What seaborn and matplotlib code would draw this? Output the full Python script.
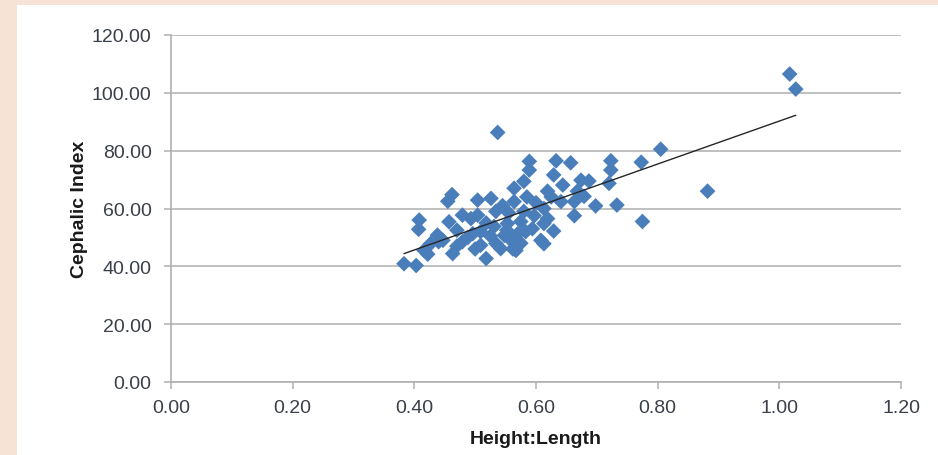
import numpy as np
import pandas as pd
import matplotlib
matplotlib.use("Agg")
import matplotlib.pyplot as plt
import seaborn as sns
from matplotlib.ticker import FormatStrFormatter

# values
height_length = [0.383, 0.403, 0.408, 0.407, 0.416, 0.422, 0.427, 0.438, 0.447, 0.455,
                 0.462, 0.457, 0.463, 0.470, 0.479, 0.479, 0.488, 0.496, 0.493, 0.500,
                 0.504, 0.504, 0.509, 0.509, 0.518, 0.518, 0.526, 0.531, 0.534, 0.534,
                 0.537, 0.542, 0.545, 0.548, 0.553, 0.555, 0.559, 0.562, 0.564, 0.564,
                 0.567, 0.570, 0.575, 0.575, 0.580, 0.580, 0.585, 0.589, 0.589, 0.594,
                 0.597, 0.600, 0.608, 0.613, 0.613, 0.613, 0.619, 0.619, 0.625, 0.629,
                 0.629, 0.633, 0.641, 0.644, 0.657, 0.663, 0.663, 0.668, 0.674, 0.679,
                 0.687, 0.698, 0.720, 0.723, 0.723, 0.733, 0.773, 0.775, 0.805, 0.882,
                 1.017, 1.027, 0.525, 0.552, 0.583, 0.470, 0.440]
cephalic_index = [40.9, 40.3, 56.0, 52.8, 45.5, 44.2, 47.9, 50.8, 49.0, 62.5,
                  64.8, 55.4, 44.4, 47.0, 57.7, 48.5, 50.0, 51.3, 56.5, 46.0,
                  62.9, 57.7, 52.0, 47.3, 42.7, 55.0, 63.5, 53.8, 59.0, 47.9,
                  86.3, 46.1, 61.0, 50.7, 54.8, 58.5, 49.0, 46.0, 67.0, 62.4,
                  45.5, 51.3, 55.5, 48.0, 69.4, 59.0, 64.0, 76.3, 73.3, 53.0,
                  57.5, 62.0, 49.0, 60.0, 54.8, 47.8, 66.0, 56.5, 64.0, 52.2,
                  71.6, 76.5, 62.4, 68.1, 75.8, 62.4, 57.5, 66.0, 69.8, 64.2,
                  69.5, 60.9, 68.7, 73.3, 76.5, 61.2, 76.0, 55.5, 80.5, 66.0,
                  106.5, 101.3, 50.5, 52.5, 52.0, 52.5, 48.5]
x_ticks = [0.0, 0.2, 0.4, 0.6, 0.8, 1.0, 1.2]
y_ticks = [0, 20, 40, 60, 80, 100, 120]

df = pd.DataFrame({"HeightLength": height_length, "CephalicIndex": cephalic_index})

sns.set_style("white")
plt.rcParams["font.family"] = ["Liberation Sans", "DejaVu Sans"]

fig = plt.figure(figsize=(9.38, 4.56), dpi=100)
fig.patch.set_facecolor("#F7E2D6")

# white chart panel behind everything
bg = fig.add_axes([17 / 938, 0, 1 - 17 / 938, 1 - 6 / 456], zorder=-5)
bg.set_facecolor("white")
bg.set_xticks([])
bg.set_yticks([])
for s in bg.spines.values():
    s.set_visible(False)

ax = fig.add_axes([171 / 938, 1 - 383 / 456, (901 - 171) / 938, (383 - 36) / 456])
ax.set_facecolor("none")

sns.scatterplot(data=df, x="HeightLength", y="CephalicIndex", marker="D", s=64,
                color="#4A7EBB", edgecolor="none", ax=ax, zorder=3)
sns.regplot(data=df, x="HeightLength", y="CephalicIndex", scatter=False, ci=None,
            color="#262626", line_kws={"lw": 1.0, "zorder": 4}, ax=ax)

ax.set_xlim(0, 1.2)
ax.set_ylim(0, 120)
ax.set_xticks(x_ticks)
ax.set_yticks(y_ticks)
ax.xaxis.set_major_formatter(FormatStrFormatter("%.2f"))
ax.yaxis.set_major_formatter(FormatStrFormatter("%.2f"))

ax.yaxis.grid(True, color="#C0C0C0", lw=1.4)
ax.xaxis.grid(False)
ax.set_axisbelow(True)
for side in ["top", "right"]:
    ax.spines[side].set_visible(False)
for side in ["left", "bottom"]:
    ax.spines[side].set_color("#B0B0B0")
    ax.spines[side].set_linewidth(1.2)

ax.tick_params(axis="both", which="both", direction="out", length=5, width=1.1,
               color="#B0B0B0", labelsize=14, labelcolor="#3a3f4a",
               left=True, bottom=True)
ax.tick_params(axis="y", pad=9)
ax.tick_params(axis="x", pad=7)

ax.set_xlabel("Height:Length", fontsize=14, fontweight="bold", color="#1a1a1a", labelpad=10)
ax.set_ylabel("Cephalic Index", fontsize=14, fontweight="bold", color="#1a1a1a", labelpad=3)

fig.savefig("out.png", dpi=100, facecolor=fig.get_facecolor())
